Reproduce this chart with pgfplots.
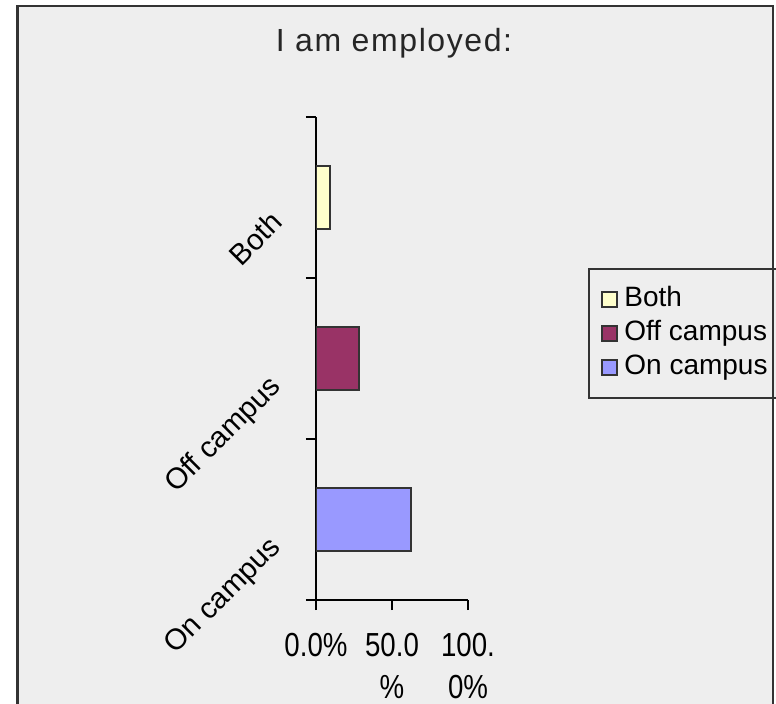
\documentclass[border=0pt]{standalone}
\usepackage{fontspec}
\setmainfont{Liberation Sans}
\newfontfamily\tickfont{Liberation Sans}[FakeStretch=0.83]
\newfontfamily\titlefont{Liberation Sans}[LetterSpace=5]
\usepackage{pgfplots}
\pgfplotsset{compat=1.18}
\definecolor{panel}{HTML}{EEEEEE}
\definecolor{edge}{HTML}{333333}
\definecolor{both}{HTML}{FFFFCC}
\definecolor{offc}{HTML}{993366}
\definecolor{onc}{HTML}{9999FF}

\begin{document}
\begin{tikzpicture}[x=0.75pt,y=0.75pt]
% picture frame, in pixel units of the reference
\useasboundingbox (0,0) rectangle (776,704);
\fill[white] (0,0) rectangle (776,704);
\filldraw[fill=panel, draw=edge, line width=1.9pt] (17.5,-20) rectangle (773,698);
\node[anchor=base, text=black!85, font=\titlefont\fontsize{24}{28}\selectfont] at (394,652) {I am employed:};
\coordinate (corner) at (316,104);

\begin{axis}[
    at={(corner)}, anchor=south west,
    scale only axis, width=114pt, height=362.25pt,
    xmin=0, xmax=100, ymin=-0.5, ymax=2.5,
    axis x line*=bottom, axis y line*=left,
    axis line style={line width=1.5pt, black},
    tick style={line width=1.5pt, black},
    tick align=outside, major tick length=7.5pt,
    xtick={0,50,100},
    xticklabels={0.0\%, 50.0\\\%, 100.\\0\%},
    xticklabel style={align=center, yshift=-14pt, font=\tickfont\fontsize{25}{31.5}\selectfont},
    ytick={-0.5,0.5,1.5,2.5}, yticklabels={},
    extra y ticks={-0.13,0.87,1.9},
    extra y tick labels={On campus, Off campus, Both},
    extra y tick style={major tick length=0pt,
        yticklabel style={xshift=-27pt, rotate=45, anchor=east, font=\fontsize{22}{26}\selectfont}},
    xbar, bar width=47.25pt, bar shift=0pt,
    legend image code/.code={\draw[#1, line width=1.2pt] (0pt,-5.7pt) rectangle (11.4pt,5.7pt);},
    legend cell align=left,
    legend style={at={(1.789,0.687)}, anchor=north west, fill=panel, draw=edge, line width=1.5pt,
        font=\fontsize{21}{25}\selectfont, inner xsep=9pt, inner ysep=10pt, row sep=0pt,
        column sep=3pt,
        nodes={inner sep=2pt, text height=16pt, text depth=5.5pt}},
]
\addplot[fill=both, draw=edge, line width=1.5pt] coordinates {(9,2)};
\addlegendentry{Both}
\addplot[fill=offc, draw=edge, line width=1.5pt] coordinates {(28.5,1)};
\addlegendentry{Off campus}
\addplot[fill=onc, draw=edge, line width=1.5pt] coordinates {(62.5,0)};
\addlegendentry{On campus}
\end{axis}
% right edge of the frame, over the legend box
\draw[edge, line width=1.9pt] (773,-20) -- (773,698);
\end{tikzpicture}
\end{document}
